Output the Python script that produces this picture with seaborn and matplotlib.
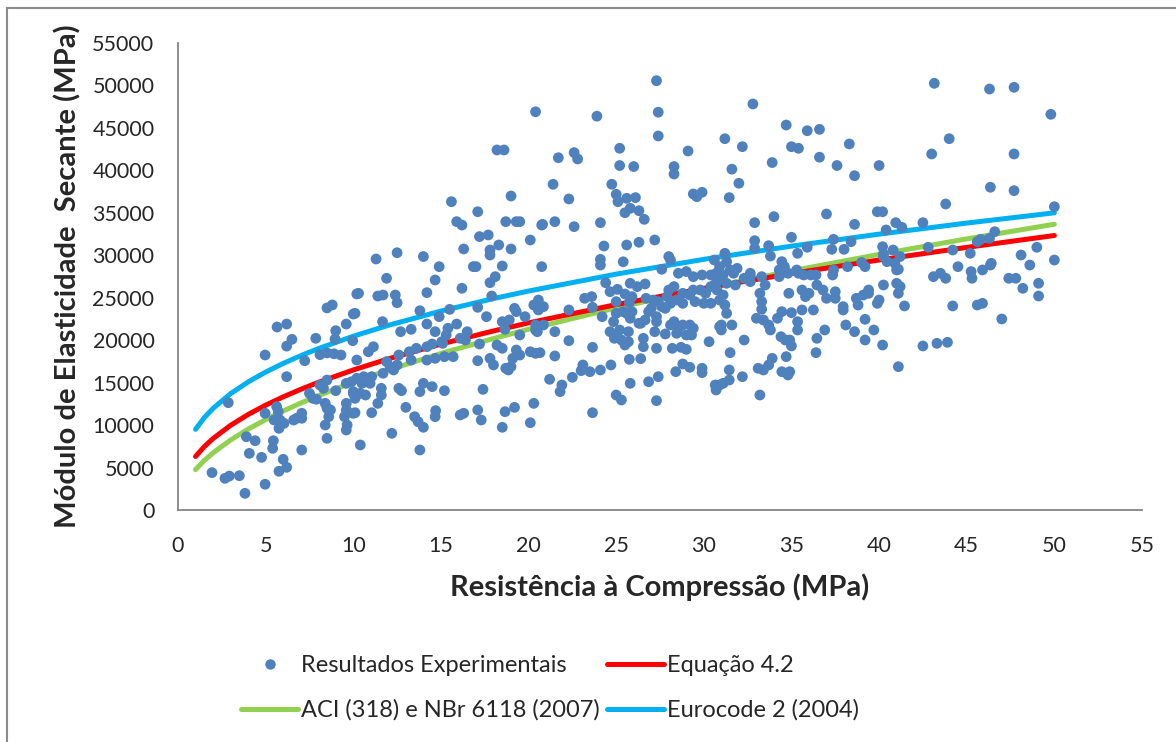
import matplotlib
matplotlib.use("Agg")
import matplotlib.pyplot as plt
import seaborn as sns
import pandas as pd
from matplotlib.patches import Rectangle
from matplotlib.lines import Line2D

# ---------------- data ----------------
fc_exp = [
    10.2, 8.5, 8.8, 10.0, 5.65, 6.2, 9.6, 9.0, 7.86, 6.5, 6.2, 8.96, 9.97, 4.97, 8.1, 8.5, 8.9, 9.3, 7.23, 10.2,
    6.2, 8.5, 8.1, 8.3, 9.6, 9.9, 9.0, 10.2, 7.5, 7.7, 7.9, 10.0, 10.1, 2.87, 8.4, 8.5, 8.7, 8.6, 8.4, 8.5,
    9.6, 9.6, 9.5, 9.65, 9.6, 10.0, 5.63, 5.72, 5.48, 5.82, 6.05, 5.76, 4.97, 6.6, 6.77, 7.06, 7.06, 3.9, 4.4, 5.44,
    5.4, 4.07, 4.77, 7.06, 6.0, 6.2, 5.76, 1.94, 2.68, 2.93, 3.5, 4.97, 3.82, 10.4,
    11.9, 14.67, 18.1, 17.8, 10.3, 11.4, 11.7, 12.4, 12.5, 14.2, 16.2, 17.9, 10.1, 13.8, 14.9, 15.5, 17.1, 17.6, 19.2, 19.3,
    19.8, 20.3, 20.5, 11.67, 12.7, 13.3, 14.2, 14.67, 15.4, 15.9, 18.5, 18.9, 18.65, 20.4, 20.5, 19.5, 16.5, 16.4, 16.1, 15.3,
    15.05, 17.2, 18.2, 18.5, 19.3, 19.5, 19.1, 20.1, 20.4, 10.86, 11.15, 12.6, 11.9, 12.1, 11.7, 12.3, 12.5, 13.2, 13.6, 13.3,
    14.2, 14.5, 14.2, 14.67, 15.1, 15.7, 15.2, 17.1, 17.8, 18.0, 18.7, 19.0, 18.85, 10.6, 11.05, 10.96, 10.5, 10.0, 10.4, 10.7,
    11.6, 11.6, 11.4, 12.6, 12.75, 14.0, 14.5, 13.8, 15.2, 17.4, 13.0, 13.5, 13.7, 14.0, 14.7, 14.67, 16.1, 16.3, 17.1, 17.3,
    18.66, 19.2, 18.5, 20.3, 20.1, 10.1, 11.05, 12.2, 13.8,
    20.4, 18.2, 18.6, 15.6, 19.0, 17.1, 15.9, 16.2, 18.7, 19.3, 19.5, 20.75, 17.2, 17.7, 20.1, 16.3, 17.8, 17.8, 18.3, 19.0,
    11.3, 12.5, 14.0, 14.9, 16.85, 17.0, 18.5, 20.75,
    27.3, 23.9, 27.4, 27.4, 25.2, 22.6, 22.8, 21.7, 29.1, 25.2, 26.0, 28.3, 28.3, 21.4, 24.75, 22.3, 25.0, 25.1, 25.6, 26.1,
    25.5, 25.8, 26.3, 26.6, 29.4, 29.9, 29.6, 20.8, 21.5, 22.6, 24.1, 24.3, 25.6, 26.3, 27.2, 24.1, 24.1, 25.4, 28.0, 28.1,
    27.6, 30.6, 28.55, 29.0, 29.4, 29.9, 30.4, 30.7,
    30.7, 30.4, 30.1, 29.8, 24.4, 25.8, 26.2, 26.65, 24.65, 25.07, 25.5, 25.9, 25.75, 25.0, 23.2, 23.6, 23.65, 28.0, 28.3, 27.9,
    28.1, 28.45, 28.8, 28.8, 29.2, 29.4, 29.5, 30.0, 30.4, 26.7, 27.1, 27.0, 27.4, 27.6, 27.3, 26.85, 26.65, 26.4, 27.3, 27.8,
    20.56, 20.56, 20.85, 22.3, 24.2, 24.85, 25.0, 25.4, 25.6, 25.9, 25.8, 28.3, 28.1, 28.55, 28.8, 29.2, 29.4, 29.3, 29.0, 28.45,
    27.8, 20.4, 20.85, 21.5, 22.3, 23.65, 24.65, 25.2, 25.7, 24.9, 25.3, 25.5, 25.7, 26.55, 26.55, 27.2, 27.3, 26.3, 28.2, 28.7,
    29.0, 30.3, 20.65, 21.5, 23.1, 23.0, 23.5, 24.1, 24.7, 25.75, 26.4, 28.8, 29.2, 28.4, 29.9, 29.9, 21.2, 21.9, 21.8, 22.5,
    25.8, 26.85, 27.4, 25.0, 25.3, 27.3, 30.65, 30.7, 23.65, 30.9,
    32.8, 34.7, 35.9, 36.6, 31.2, 32.2, 35.0, 35.4, 38.3, 31.6, 33.9, 36.6, 37.6, 40.0, 38.6, 32.0, 31.45, 37.0, 39.9, 40.2,
    32.9, 34.0, 38.6, 40.95, 40.4, 35.0, 32.9, 32.9, 33.7, 33.8, 35.9, 37.4, 37.3, 38.0, 38.4, 35.35, 40.2, 40.25, 40.8, 31.2,
    31.3, 30.9, 31.5, 31.9, 31.7, 31.1, 32.65, 34.45, 34.6, 34.3, 35.4, 36.1, 37.4, 37.35, 38.2, 39.0, 39.2, 40.25, 40.45, 40.9,
    41.0,
    30.75, 31.3, 30.75, 31.1, 30.9, 31.2, 31.3, 31.8, 32.3, 32.65, 32.65, 33.3, 33.5, 33.2, 33.3, 33.3, 34.3, 34.8, 35.3, 35.7,
    36.4, 34.85, 35.6, 35.8, 36.0, 36.45, 36.8, 37.0, 37.5, 37.5, 37.95, 37.95, 38.7, 38.8, 39.1, 39.4, 39.4, 39.9, 40.0, 40.25,
    41.0, 41.1, 35.6, 36.25, 34.45, 35.0, 34.2, 33.0, 33.4, 33.7, 33.8, 35.35, 35.35, 36.9, 36.45, 36.4, 31.0, 31.6, 31.0, 32.3,
    31.5, 34.4, 34.65, 34.9, 35.0, 34.7, 33.9, 33.7, 33.4, 33.1, 34.45, 34.9, 34.8, 31.45, 31.45, 32.2, 30.9, 31.1, 33.2, 38.1,
    38.6, 39.2, 39.2, 39.7, 40.2, 41.1,
    43.15, 46.3, 47.7, 49.8, 44.0, 43.0, 47.7, 46.35, 47.7, 43.8, 50.0, 41.3, 42.5, 46.6, 46.3, 45.6, 45.8, 41.2, 42.8, 44.2,
    45.2, 48.1, 48.6, 49.0, 50.0, 41.1, 44.5, 45.25, 45.9, 46.35, 46.4, 43.1, 43.5, 43.8, 47.4, 47.8, 45.3,
    41.2, 41.45, 44.2, 45.6, 45.9, 48.2, 49.1, 49.1, 47.0, 42.5, 43.3, 43.9,
]
E_exp = [
    25440, 23800, 24150, 23080, 21550, 21900, 21900, 21120, 20220, 20100, 19300, 20140, 19940, 18250, 18300, 18500, 18400, 18250, 17580, 17660,
    15700, 15300, 14720, 14330, 14920, 15110, 14050, 15510, 13740, 13150, 13040, 13740, 13150, 12640, 12560, 11980, 11780, 10990, 10010, 8440,
    12560, 11780, 10990, 10010, 9420, 11390, 12170, 11580, 10600, 10600, 10210, 9620, 11390, 10600, 10800, 11390, 10800, 8630, 8160, 8160,
    7260, 6670, 6200, 7070, 5970, 5030, 4560, 4400, 3730, 4000, 4040, 3030, 1960, 7660,
    27290, 27090, 27480, 26770, 25520, 25200, 25320, 25320, 24410, 25600, 26110, 25200, 23160, 23470, 22770, 23630, 23870, 22770, 23750, 23360,
    22770, 24140, 24340, 22180, 21000, 21280, 21900, 21000, 21400, 21900, 22180, 22380, 21280, 21790, 21000, 20610, 21000, 20020, 20220, 20610,
    19820, 19550, 19430, 19040, 18840, 18250, 17860, 18640, 18450, 18640, 19230, 18250, 17470, 16880, 16100, 16490, 17080, 18640, 19040, 17660,
    19230, 19550, 17660, 17860, 19630, 18060, 18060, 17580, 17860, 17080, 16690, 16880, 16490, 15700, 15700, 14920, 14920, 13940, 13740, 13540,
    14330, 13540, 12560, 14330, 14050, 14920, 14530, 13940, 14050, 14210, 12090, 10990, 10400, 9740, 11700, 10990, 11190, 11390, 11780, 10600,
    11580, 12090, 9740, 12560, 10280, 11460, 11460, 9030, 7070,
    46900, 42400, 42400, 36310, 36980, 35130, 33960, 33560, 33960, 33960, 33960, 33560, 32200, 32390, 31800, 30740, 30620, 30030, 31210, 30740,
    29560, 30300, 29850, 28660, 28660, 28660, 28740, 28660,
    50560, 46380, 46850, 44050, 42600, 42090, 41340, 41490, 42280, 40570, 40450, 40450, 39570, 38360, 38360, 36630, 37180, 36310, 36710, 36790,
    35010, 35530, 35250, 34230, 37220, 37420, 36900, 33640, 33960, 33370, 33840, 31090, 31210, 31530, 31800, 29520, 28850, 29230, 29850, 29440,
    28350, 29440, 27880, 28080, 27480, 27680, 27680, 27880,
    26700, 26310, 25520, 25910, 26770, 26700, 26310, 26620, 25710, 25990, 25440, 25130, 24420, 24540, 24930, 25130, 23870, 25910, 26310, 25130,
    24340, 24730, 25520, 24340, 25320, 25910, 24540, 24340, 24340, 24930, 24730, 23750, 24540, 23950, 22770, 23360, 22380, 21990, 22180, 23750,
    24730, 23560, 23950, 23560, 22770, 22180, 23160, 23360, 23160, 23360, 22580, 22180, 21790, 21400, 21790, 21790, 21400, 20610, 20610, 20810,
    20730, 21200, 21790, 21000, 19940, 19160, 21000, 21200, 21000, 20220, 20020, 19430, 19820, 20220, 19230, 21000, 19040, 21990, 19040, 19160,
    18920, 19820, 18530, 18140, 17080, 16410, 16290, 16490, 17080, 17740, 17820, 17200, 16810, 16290, 16690, 16180, 15390, 14720, 13940, 15630,
    14920, 15110, 15700, 13540, 12960, 12880, 14720, 14130, 11460, 21590,
    47820, 45340, 44670, 44830, 43730, 42790, 42790, 42600, 43110, 40140, 40920, 41550, 40570, 40570, 39370, 38480, 36790, 34860, 35130, 35130,
    33840, 34550, 33640, 33840, 32980, 32120, 31720, 30820, 31130, 29910, 30940, 31880, 30700, 30700, 31600, 30230, 31010, 30150, 30620, 30230,
    29250, 28660, 28270, 28460, 27880, 27680, 27880, 29250, 28660, 28270, 27880, 27680, 28270, 27680, 28660, 29150, 28660, 29850, 29250, 29050,
    28270,
    27090, 26700, 25910, 25320, 24730, 24140, 23160, 26500, 27290, 27480, 26890, 27480, 26500, 25520, 24540, 23640, 27480, 27880, 28270, 27680,
    27680, 25520, 25910, 25130, 25520, 26500, 25910, 24930, 25710, 24930, 23950, 23560, 24930, 24140, 25320, 25910, 25520, 24340, 24730, 26500,
    26700, 25520, 23560, 23560, 23360, 23240, 22580, 22580, 22380, 21790, 21200, 22180, 21200, 21200, 20220, 18530, 21790, 21790, 21200, 20020,
    18530, 20410, 20020, 20020, 19320, 18060, 17860, 17080, 16490, 16690, 16290, 16290, 15900, 16490, 15310, 15700, 14720, 14920, 13540, 21790,
    21000, 22460, 20020, 21200, 19430, 16880,
    50250, 49580, 49780, 46600, 43730, 41930, 41930, 38010, 37610, 36040, 35720, 33290, 33840, 32780, 32000, 31600, 31880, 29850, 30940, 30620,
    30230, 30030, 28850, 30940, 29440, 28350, 28660, 28080, 28270, 28850, 29050, 27480, 27880, 27290, 27290, 27290, 27290,
    26310, 24030, 24030, 24140, 24340, 26110, 26700, 25200, 22500, 19320, 19630, 19750,
]

fc_curve = [1, 1.5, 2, 3, 4, 5, 6, 7, 8, 10, 12, 15, 18, 20, 25, 30, 35, 40, 45, 50]
E_eq42 = [6300, 7464, 8418, 9972, 11246, 12346, 13324, 14210, 15026, 16495, 17801, 19541, 21089, 22037,
          24193, 26107, 27846, 29446, 30930, 32330]
E_aci = [4760, 5830, 6732, 8245, 9520, 10644, 11660, 12594, 13463, 15052, 16489, 18435, 20195, 21287,
         23800, 26071, 28161, 30105, 31931, 33658]
E_ec2 = [9500, 10875, 11969, 13701, 15080, 16245, 17263, 18173, 19000, 20467, 21750, 23431, 24900, 25785,
         27780, 29521, 31077, 32490, 33792, 35000]

x_ticks = list(range(0, 56, 5))
y_ticks = list(range(0, 55001, 5000))

lbl_exp = "Resultados Experimentais"
lbl_eq = "Equação 4.2"
lbl_aci = "ACI (318) e NBr 6118 (2007)"
lbl_ec = "Eurocode 2 (2004)"

# ---------------- plotting ----------------
sns.set_theme(style="white")
plt.rcParams["font.family"] = ["Lato", "DejaVu Sans"]

c_pts = "#4F81BD"
c_eq = "#FF0000"
c_aci = "#92D050"
c_ec = "#00B0F0"

fig = plt.figure(figsize=(11.76, 7.42), dpi=100)
ax = fig.add_axes([178 / 1176, 1 - 510 / 742, (1142 - 178) / 1176, (510 - 43) / 742])

df_exp = pd.DataFrame({"fc": fc_exp, "E": E_exp})
df_curve = pd.DataFrame({"fc": fc_curve, "eq": E_eq42, "aci": E_aci, "ec": E_ec2})

lw = 3.6
sns.lineplot(data=df_curve, x="fc", y="ec", ax=ax, color=c_ec, lw=lw, zorder=2)
sns.lineplot(data=df_curve, x="fc", y="aci", ax=ax, color=c_aci, lw=lw, zorder=2)
sns.lineplot(data=df_curve, x="fc", y="eq", ax=ax, color=c_eq, lw=lw, zorder=2)
sns.scatterplot(data=df_exp, x="fc", y="E", ax=ax, color=c_pts, s=60, edgecolor="none", zorder=3)

ax.set_xlim(0, 55)
ax.set_ylim(0, 55000)
ax.set_xticks(x_ticks)
ax.set_yticks(y_ticks)
ax.set_xticklabels([str(v) for v in x_ticks], fontsize=15.5)
ax.set_yticklabels([str(v) for v in y_ticks], fontsize=15.5)
ax.tick_params(axis="both", direction="out", length=6, width=1.2, color="#868686")
ax.tick_params(axis="y", pad=11)
ax.tick_params(axis="x", pad=13)

for s in ["top", "right"]:
    ax.spines[s].set_visible(False)
for s in ["left", "bottom"]:
    ax.spines[s].set_color("#868686")
    ax.spines[s].set_linewidth(1.3)

ax.set_xlabel("Resistência à Compressão (MPa)", fontsize=21, fontweight="bold", labelpad=12)
ax.set_ylabel("Módulo de Elasticidade  Secante (MPa)", fontsize=21, fontweight="bold", labelpad=8)
ax.grid(False)

handles = [
    Line2D([], [], ls="none", marker="o", markersize=7.5, color=c_pts, markeredgecolor="none"),
    Line2D([], [], color=c_aci, lw=lw),
    Line2D([], [], color=c_eq, lw=lw),
    Line2D([], [], color=c_ec, lw=lw),
]
labels = [lbl_exp, lbl_aci, lbl_eq, lbl_ec]
fig.legend(handles, labels, ncol=2, loc="center", bbox_to_anchor=(0.468, 1 - 688 / 742),
           frameon=False, fontsize=17, handlelength=2.4, handletextpad=0.15,
           columnspacing=0.3, labelspacing=1.0)

fig.patches.append(Rectangle((7 / 1176, -0.05), 1.2, 1.05 - 8 / 742, transform=fig.transFigure,
                             fill=False, edgecolor="#8c8c8c", lw=1.5))

fig.savefig("out.png", dpi=100)
